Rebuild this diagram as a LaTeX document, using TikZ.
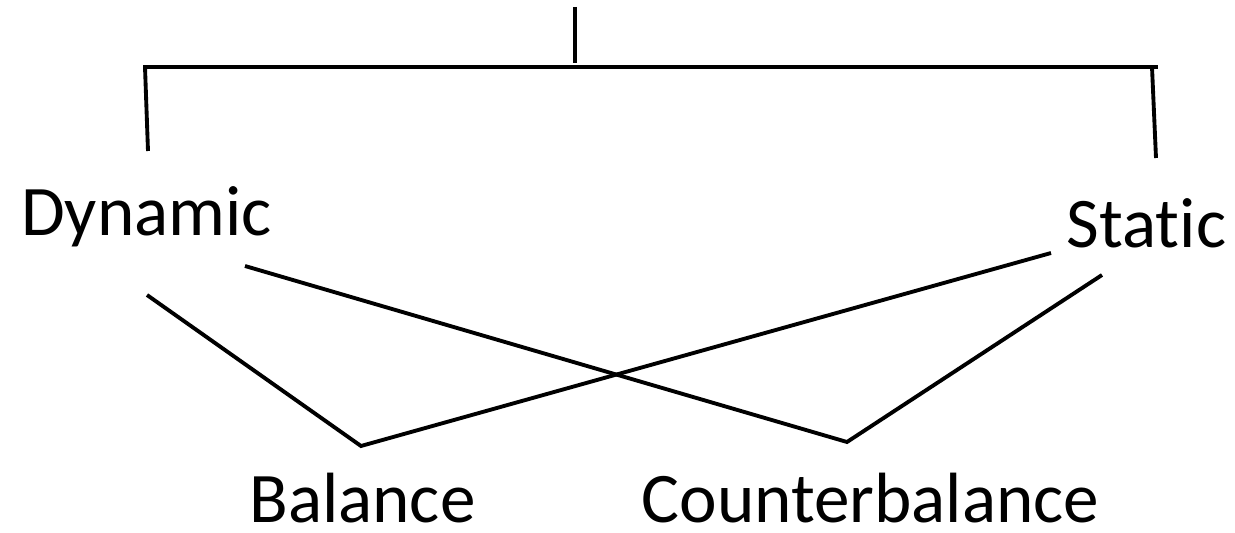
\documentclass[tikz,border=0pt]{standalone}
\usepackage{fontspec}
\setmainfont[Ligatures=NoCommon]{Carlito}
\usepackage{tikz}

\begin{document}
\begin{tikzpicture}[
			x=0.02cm,
			y=-0.02cm,
			line cap=butt,
			term/.style={inner sep=0pt, anchor=base, font=\fontsize{40.5}{48}\selectfont},
			link/.style={draw, line width=2.2pt}
		]
			\useasboundingbox (0,0) rectangle (1235,533);

			\node[term] (dynamic) at (146.5,236) {Dynamic};
			\node[term] (static)  at (1146.5,248) {Static};
			\node[term] (balance) at (362.5,523) {Balance};
			\node[term] (counter) at (870.5,523) {Counterbalance};

			\coordinate (root)  at (575,7);
			\coordinate (rootb) at (575,63);
			\coordinate (barl)  at (143,67);
			\coordinate (barr)  at (1158,67);
			\coordinate (dropl) at (145,67);
			\coordinate (dropr) at (1152,67);
			\coordinate (dynt)  at (148,151);
			\coordinate (stat)  at (1156,158);

			\coordinate (dyn1) at (147,295);
			\coordinate (dyn2) at (245,266);
			\coordinate (sta1) at (1051,253);
			\coordinate (sta2) at (1102,275);
			\coordinate (bal)  at (361,446);
			\coordinate (cnt)  at (847,442);

			\path[link] (root) -- (rootb);
			\path[link] (barl) -- (barr);
			\path[link] (dropl) -- (dynt);
			\path[link] (dropr) -- (stat);

			\path[link] (dyn1) -- (bal) -- (sta1);
			\path[link] (dyn2) -- (cnt) -- (sta2);
		\end{tikzpicture}
\end{document}
